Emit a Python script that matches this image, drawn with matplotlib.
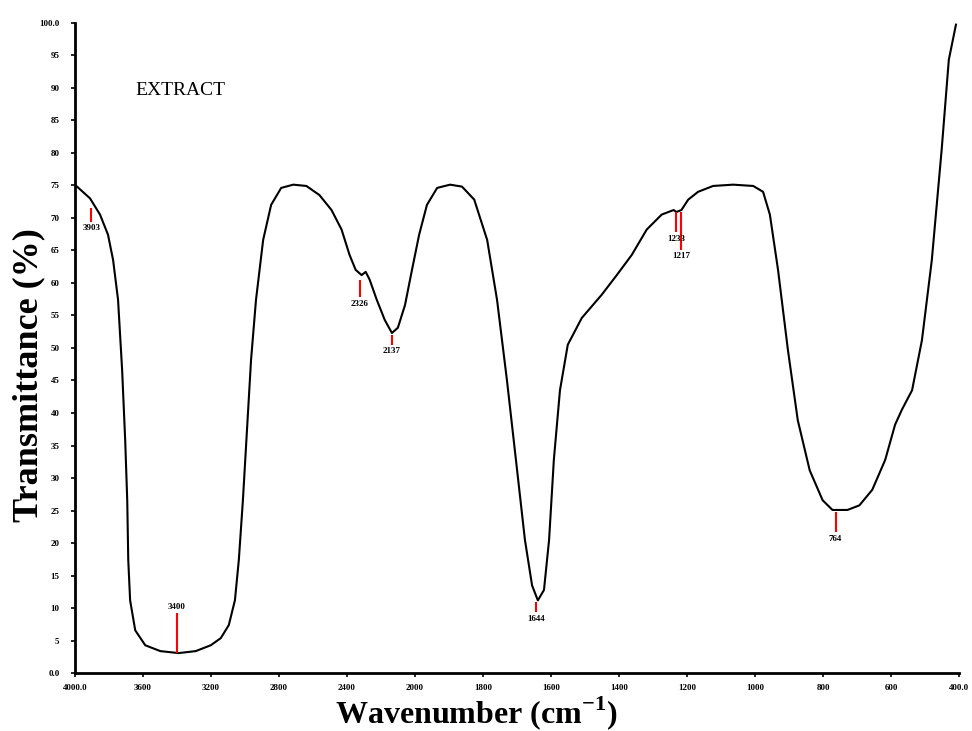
import matplotlib

matplotlib.use("Agg")

import matplotlib.pyplot as plt
import numpy as np

# spectrum (wavenumber in cm-1, transmittance in %)
wavenumber = [
    4000, 3911, 3852, 3805, 3775, 3746, 3722, 3704, 3692, 3686, 3675, 3645,
    3586, 3497, 3390, 3290, 3201, 3142, 3095, 3059, 3036, 3012, 2988, 2964,
    2935, 2893, 2846, 2787, 2716, 2639, 2562, 2491, 2432, 2385, 2349, 2314,
    2290, 2267, 2225, 2178, 2136, 2101, 2059, 2018, 1988, 1965, 1935, 1897,
    1862, 1826, 1788, 1759, 1730, 1700, 1677, 1656, 1639, 1621, 1606, 1592,
    1574, 1551, 1510, 1451, 1407, 1363, 1319, 1275, 1240, 1232, 1217, 1197,
    1168, 1124, 1065, 1006, 977, 957, 933, 904, 875, 840, 802, 773, 729,
    694, 656, 618, 589, 569, 539, 510, 481, 452, 431, 410,
]
transmittance = [
    75.1, 73.0, 70.5, 67.4, 63.5, 57.4, 46.6, 35.8, 26.6, 17.4, 11.2, 6.6,
    4.3, 3.4, 3.1, 3.4, 4.3, 5.4, 7.4, 11.2, 17.4, 26.6, 37.4, 48.2,
    57.4, 66.6, 72.0, 74.6, 75.1, 74.9, 73.5, 71.2, 68.2, 64.3, 62.0, 61.2,
    61.7, 60.5, 57.4, 54.3, 52.3, 53.1, 56.6, 62.0, 67.4, 72.0, 74.6, 75.1,
    74.8, 72.8, 66.6, 57.4, 45.1, 31.2, 20.5, 13.5, 11.2, 12.8, 20.5, 32.8,
    43.5, 50.5, 54.6, 58.2, 61.2, 64.3, 68.2, 70.5, 71.2, 70.9, 71.2, 72.8,
    74.0, 74.9, 75.1, 74.9, 74.0, 70.5, 62.0, 49.7, 38.9, 31.2, 26.6, 25.1, 25.1,
    25.8, 28.2, 32.8, 38.2, 40.5, 43.5, 51.2, 63.5, 80.5, 94.3, 99.7,
]

# marked peaks: label, line start/end (in %), label above or below
peak_pos = [3903, 3400, 2326, 2137, 1644, 1233, 1217, 764]
peak_top = [71.5, 9.2, 60.5, 52.0, 10.9, 70.9, 70.9, 24.8]
peak_bot = [69.4, 3.1, 57.8, 50.5, 9.4, 67.8, 65.1, 21.7]
peak_above = [False, True, False, False, False, False, False, False]

x_ticks = [4000, 3600, 3200, 2800, 2400, 2000, 1800, 1600, 1400, 1200, 1000, 800, 600, 400]
x_tick_labels = ["4000.0"] + [str(t) for t in x_ticks[1:-1]] + ["400.0"]
y_ticks = list(range(0, 101, 5))
y_tick_labels = ["0.0"] + [str(t) for t in y_ticks[1:-1]] + ["100.0"]


# axis scale changes at 2000 cm-1 (400 per tick above, 200 per tick below)
def fwd(w):
    w = np.asarray(w, dtype=float)
    return np.where(w >= 2000, 2000 + (w - 2000) / 2, w)


def inv(p):
    p = np.asarray(p, dtype=float)
    return np.where(p >= 2000, 2000 + (p - 2000) * 2, p)


serif = "Liberation Serif"
plt.rcParams["mathtext.fontset"] = "custom"
plt.rcParams["mathtext.rm"] = serif
plt.rcParams["mathtext.bf"] = serif + ":bold"

fig = plt.figure(figsize=(9.72, 7.31), dpi=100)
ax = fig.add_axes([0.077, 0.079, 0.910, 0.890])

ax.set_xscale("function", functions=(fwd, inv))
ax.plot(wavenumber, transmittance, color="black", linewidth=1.5)

for w, top, bot, above in zip(peak_pos, peak_top, peak_bot, peak_above):
    ax.vlines(w, bot, top, color="red", linewidth=1.5)
    if above:
        ax.text(w, top + 0.4, str(w), ha="center", va="bottom",
                fontsize=6.5, fontweight="bold", family=serif)
    else:
        ax.text(w, bot - 0.4, str(w), ha="center", va="top",
                fontsize=6.5, fontweight="bold", family=serif)

ax.set_xlim(4000, 400)
ax.set_ylim(0, 100)

ax.spines["top"].set_visible(False)
ax.spines["right"].set_visible(False)
ax.spines["left"].set_linewidth(2)
ax.spines["bottom"].set_linewidth(2)

ax.set_xticks(x_ticks)
ax.set_xticklabels(x_tick_labels)
ax.set_yticks(y_ticks)
ax.set_yticklabels(y_tick_labels)
ax.xaxis.set_minor_locator(matplotlib.ticker.NullLocator())
ax.tick_params(length=3, width=1.2, labelsize=6.5)
ax.tick_params(axis="y", pad=8)
ax.tick_params(axis="x", pad=5)
for lab in ax.get_xticklabels() + ax.get_yticklabels():
    lab.set_fontweight("bold")
    lab.set_family(serif)

ax.text(0.068, 0.895, "EXTRACT", transform=ax.transAxes, fontsize=14,
        family=serif, ha="left", va="center")

fig.text(0.49, 0.025, r"Wavenumber (cm$^{\mathbf{-1}}$)", ha="center", va="center",
         fontsize=23, fontweight="bold", family=serif)
fig.text(0.03, 0.487, "Transmittance (%)", ha="center", va="center",
         rotation=90, fontsize=26, fontweight="bold", family=serif)

fig.savefig("out.png", dpi=100)
